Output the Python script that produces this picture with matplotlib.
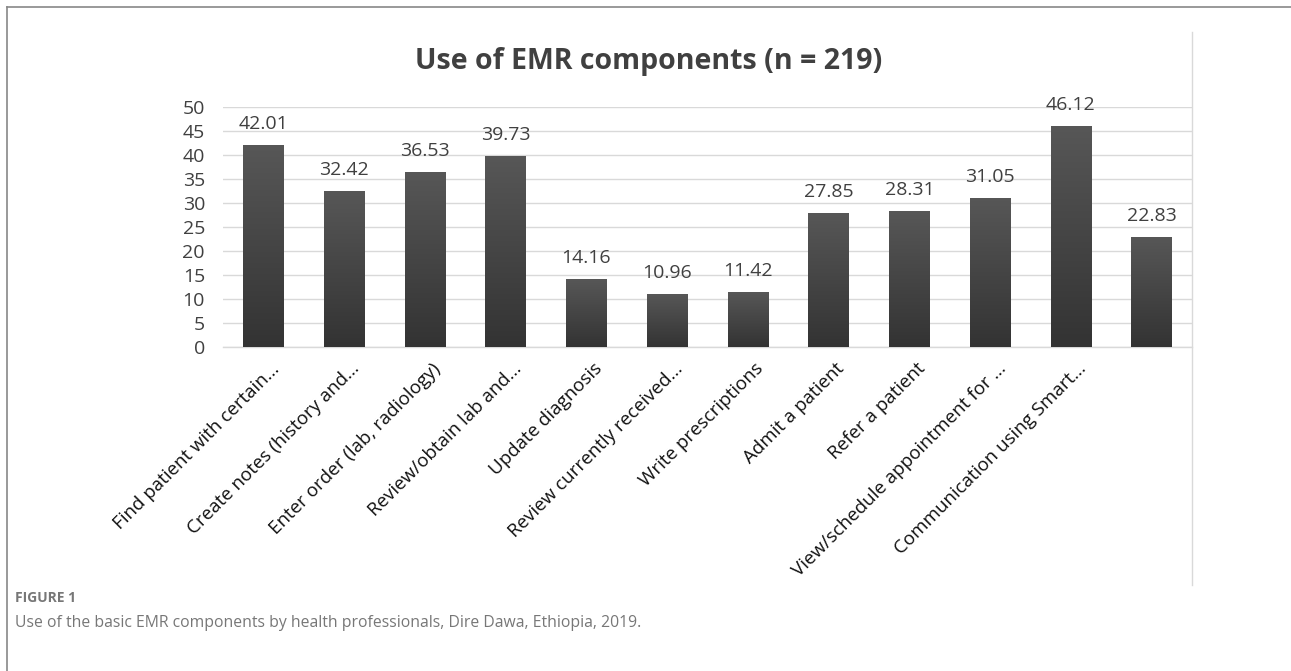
import matplotlib
matplotlib.use("Agg")
import matplotlib.pyplot as plt
import numpy as np
from matplotlib.lines import Line2D
from matplotlib.colors import LinearSegmentedColormap
from matplotlib.transforms import ScaledTranslation

categories = [
    "Find patient with certain...",
    "Create notes (history and...",
    "Enter order (lab, radiology)",
    "Review/obtain lab and...",
    "Update diagnosis",
    "Review currently received...",
    "Write prescriptions",
    "Admit a patient",
    "Refer a patient",
    "View/schedule appointment for ...",
    "Communication using Smart...",
    "",
]
values = [42.01, 32.42, 36.53, 39.73, 14.16, 10.96, 11.42, 27.85, 28.31, 31.05, 46.12, 22.83]
value_labels = ["42.01", "32.42", "36.53", "39.73", "14.16", "10.96", "11.42",
                "27.85", "28.31", "31.05", "46.12", "22.83"]
yticks = [0, 5, 10, 15, 20, 25, 30, 35, 40, 45, 50]
title = "Use of EMR components (n = 219)"
fig_label = "FIGURE 1"
caption = "Use of the basic EMR components by health professionals, Dire Dawa, Ethiopia, 2019."

FONT = "Open Sans"
TXT = "#404040"

W, H = 1291, 671
fig = plt.figure(figsize=(W / 100, H / 100), dpi=100)

left, right = 223, 1192
top, bottom = 107, 347
ax = fig.add_axes([left / W, 1 - bottom / H, (right - left) / W, (bottom - top) / H])

x = np.arange(len(values))
bars = ax.bar(x, values, width=0.5, color="#444444", zorder=2)

grad = np.linspace(0, 1, 256).reshape(-1, 1)
cmap = LinearSegmentedColormap.from_list("g", ["#333333", "#575757"])
for b in bars:
    bx, by = b.get_x(), b.get_y()
    bw, bh = b.get_width(), b.get_height()
    im = ax.imshow(grad, extent=[bx, bx + bw, by, by + bh], origin="lower",
                   cmap=cmap, aspect="auto", zorder=3)
    im.set_clip_path(b)

for xi, v, lab in zip(x, values, value_labels):
    ax.annotate(lab, (xi, v), xytext=(0, 11.5), textcoords="offset points",
                ha="center", va="baseline", fontsize=14, color=TXT, family=FONT)

ax.set_xlim(-0.5, len(values) - 0.5)
ax.set_ylim(0, 50)
ax.set_yticks(yticks)
ax.set_yticklabels([str(t) for t in yticks], fontsize=14, color=TXT, family=FONT)
ax.tick_params(axis="y", length=0, pad=13)
ax.set_xticks(x)
ax.set_xticklabels(categories, rotation=45, ha="right", rotation_mode="anchor",
                   fontsize=13.5, color="#111111", family=FONT)
ax.tick_params(axis="x", length=0, pad=8)
shift = ScaledTranslation(13 / 100, -8 / 100, fig.dpi_scale_trans)
for lbl in ax.get_xticklabels():
    lbl.set_va("center")
    lbl.set_transform(lbl.get_transform() + shift)
ax.grid(axis="y", color="#d9d9d9", linewidth=1, zorder=0)
for s in ["top", "right", "left"]:
    ax.spines[s].set_visible(False)
ax.spines["bottom"].set_color("#d9d9d9")
ax.spines["bottom"].set_linewidth(1)
ax.set_facecolor("none")

fig.text(649 / W, 1 - 62 / H, title, ha="center", va="center", fontsize=20.5,
         fontweight="bold", color=TXT, family=FONT)

fig.add_artist(Line2D([1192 / W, 1192 / W], [1 - 32 / H, 1 - 585 / H], color="#d9d9d9", lw=1))

fig.add_artist(Line2D([7 / W, 1.0], [1 - 7 / H, 1 - 7 / H], color="#888888", lw=1.2))
fig.add_artist(Line2D([7 / W, 7 / W], [0, 1 - 7 / H], color="#888888", lw=1.2))

fig.text(15 / W, 1 - 598 / H, fig_label, ha="left", va="center", fontsize=10,
         fontweight="bold", color="#777777", family=FONT)
fig.text(15 / W, 1 - 623 / H, caption, ha="left", va="center", fontsize=11.3,
         color="#777777", family=FONT)

fig.savefig("out.png", dpi=100)
